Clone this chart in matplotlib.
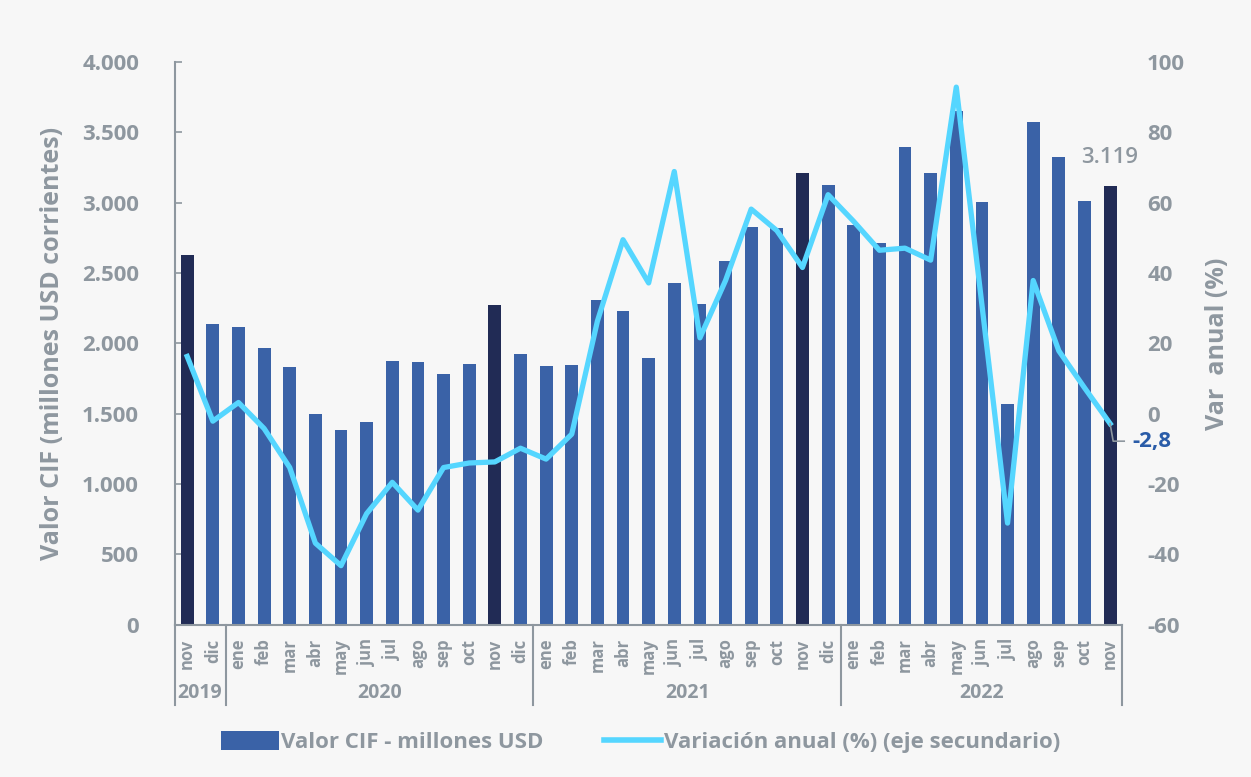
import matplotlib
matplotlib.use("Agg")
import matplotlib.pyplot as plt
from matplotlib.patches import Patch
from matplotlib.lines import Line2D
from matplotlib.ticker import FuncFormatter

plt.rcParams["font.family"] = ["Open Sans", "DejaVu Sans"]
plt.rcParams["axes.unicode_minus"] = False

# --- data ---
months = ["nov", "dic",
          "ene", "feb", "mar", "abr", "may", "jun", "jul", "ago", "sep", "oct", "nov", "dic",
          "ene", "feb", "mar", "abr", "may", "jun", "jul", "ago", "sep", "oct", "nov", "dic",
          "ene", "feb", "mar", "abr", "may", "jun", "jul", "ago", "sep", "oct", "nov"]
years = ["2019", "2020", "2021", "2022"]
year_sizes = [2, 12, 12, 11]
valor_cif = [2632, 2137,
             2116, 1968, 1834, 1495, 1384, 1439, 1876, 1871, 1784, 1855, 2271, 1926,
             1837, 1850, 2311, 2234, 1895, 2432, 2282, 2584, 2826, 2821, 3211, 3124,
             2839, 2716, 3397, 3213, 3650, 3003, 1571, 3571, 3324, 3011, 3119]
var_anual = [16.3, -2.1,
             3.2, -4.2, -15.3, -36.8, -43.2, -28.4, -19.5, -27.4, -15.3, -14.0, -13.7, -9.8,
             -12.9, -5.8, 26.3, 49.5, 37.2, 68.9, 21.6, 37.9, 58.2, 52.1, 41.6, 62.3,
             54.7, 46.5, 47.1, 43.7, 92.9, 31.0, -31.1, 37.9, 17.9, 7.4, -2.8]

BG = "#F7F7F7"
GRAY = "#8E979F"
BAR = "#3A62A7"
BAR_DARK = "#212B55"
LINE = "#55D6FF"

x = list(range(len(months)))
colors = [BAR_DARK if m == "nov" else BAR for m in months]

fig = plt.figure(figsize=(12.51, 7.77), dpi=100, facecolor=BG)
ax = fig.add_axes([0.140, 0.196, 0.757, 0.724], facecolor=BG)

ax.bar(x, valor_cif, width=0.5, color=colors, zorder=2)
ax.set_xlim(-0.47, 36.47)
ax.set_ylim(0, 4000)
ax.set_yticks(range(0, 4001, 500))
ax.yaxis.set_major_formatter(FuncFormatter(lambda v, p: f"{int(v):,}".replace(",", ".")))
ax.tick_params(axis="y", direction="in", length=5, width=1.2, color=GRAY,
               labelcolor=GRAY, labelsize=16, pad=26)
for lab in ax.get_yticklabels():
    lab.set_fontweight("bold")
ax.set_ylabel("Valor CIF (millones USD corrientes)", color=GRAY, fontsize=18,
              fontweight="bold", labelpad=12)

ax.set_xticks(x)
ax.set_xticklabels(months, rotation=90, color=GRAY, fontsize=12, fontweight="bold")
ax.tick_params(axis="x", length=0, pad=10)

for s in ["top", "right"]:
    ax.spines[s].set_visible(False)
ax.spines["left"].set_color(GRAY)
ax.spines["bottom"].set_color(GRAY)
ax.spines["left"].set_linewidth(1.5)
ax.spines["bottom"].set_linewidth(1.5)

# year groups under the month labels
trans = ax.get_xaxis_transform()
edges = [-0.5]
for n in year_sizes:
    edges.append(edges[-1] + n)
for e in edges:
    xe = min(max(e, -0.47), 36.47)
    ax.plot([xe, xe], [0, -0.142], transform=trans, color=GRAY, lw=1.5, clip_on=False)
for yr, a, b in zip(years, edges[:-1], edges[1:]):
    ax.text((a + b) / 2, -0.122, yr, transform=trans, ha="center", va="center",
            color=GRAY, fontsize=14, fontweight="bold")

# secondary axis
ax2 = ax.twinx()
ax2.plot(x, var_anual, color=LINE, lw=3.8, solid_joinstyle="round", zorder=3)
ax2.set_ylim(-60, 100)
ax2.set_yticks(range(-60, 101, 20))
ax2.tick_params(axis="y", length=0, labelcolor=GRAY, labelsize=16, pad=18)
for lab in ax2.get_yticklabels():
    lab.set_fontweight("bold")
for s in ax2.spines.values():
    s.set_visible(False)
ax2.set_ylabel("Var  anual (%)", color=GRAY, fontsize=18, fontweight="bold", labelpad=14)

# annotations on the last month
last = x[-1]
ax.text(last, valor_cif[-1] + 130, f"{valor_cif[-1]:,}".replace(",", "."),
        ha="center", va="bottom", color=GRAY, fontsize=16, fontweight="semibold")
ax2.plot([last, last + 0.12, last + 0.55], [var_anual[-1], -7.8, -7.8],
         color=GRAY, lw=1.2, clip_on=False, zorder=4)
ax2.text(last + 0.85, -7.8, f"{var_anual[-1]:.1f}".replace(".", ","), ha="left",
         va="center", color="#2A5CA8", fontsize=16, fontweight="bold")

# legend
handles = [Patch(facecolor=BAR, edgecolor="none"),
           Line2D([0], [0], color=LINE, lw=4)]
labels = ["Valor CIF - millones USD", "Variación anual (%) (eje secundario)"]
leg = fig.legend(handles, labels, loc="center", bbox_to_anchor=(0.512, 0.045), ncol=2,
                 frameon=False, fontsize=16, columnspacing=2.7, handlelength=2.6,
                 handleheight=0.9, handletextpad=0.1)
for t in leg.get_texts():
    t.set_color(GRAY)
    t.set_fontweight("bold")

fig.savefig("out.png", dpi=100, facecolor=BG)
